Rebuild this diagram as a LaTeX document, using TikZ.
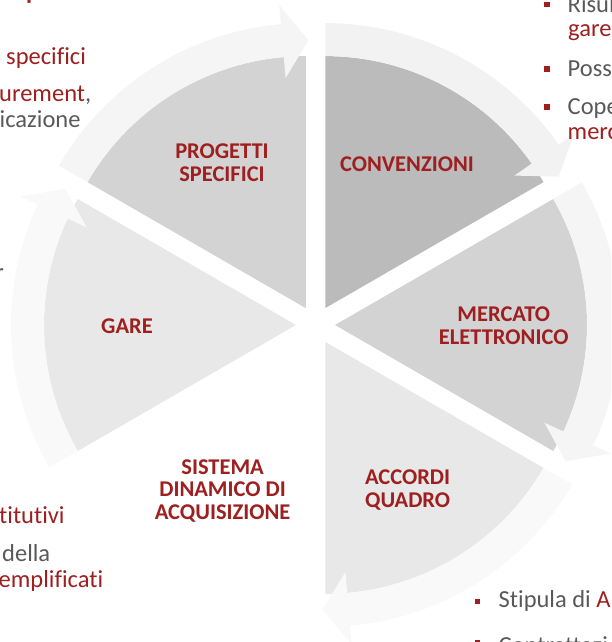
\documentclass[tikz,border=0pt]{standalone}
\usepackage{fontspec}
\setmainfont{Carlito}[Ligatures=NoCommon]
\definecolor{lblred}{RGB}{158,31,31}
\definecolor{txtgrey}{RGB}{89,89,89}
\definecolor{wedgeA}{RGB}{211,211,211}
\definecolor{wedgeB}{RGB}{187,187,187}
\definecolor{wedgeC}{RGB}{232,232,232}
\definecolor{ringA}{RGB}{245,245,245}
\definecolor{ringB}{RGB}{242,242,242}
\definecolor{ringC}{RGB}{249,249,249}
\newcommand\wedgeseg[2]{%
  \pgfmathsetmacro\aA{#1-30}\pgfmathsetmacro\aB{#1+30}%
  \begin{scope}[shift={(C)},shift={(#1:19.5pt)}]
    \fill[#2] (0,0) -- (\aA:252pt) arc[start angle=\aA, end angle=\aB, radius=252pt] -- cycle;
  \end{scope}}
\newcommand\arrowseg[2]{%
  \pgfmathsetmacro\aB{#1+30}\pgfmathsetmacro\aH{#1-25}\pgfmathsetmacro\aT{#1-30.6}%
  \begin{scope}[shift={(C)},shift={(#1:19.5pt)}]
    \fill[#2] (\aB:252pt) arc[start angle=\aB, end angle=\aH, radius=252pt]
      -- (\aH:231pt) -- (\aT:268pt) -- (\aH:304pt) -- (\aH:285pt)
      arc[start angle=\aH, end angle=\aB, radius=285pt] -- cycle;
  \end{scope}}
\begin{document}
\begin{tikzpicture}[x=1pt,y=1pt,
  lbl/.style={text=lblred, font=\fontsize{22.5}{22.7}\selectfont\bfseries, align=center, inner sep=0pt},
  body/.style={font=\fontsize{24.5}{26}\selectfont, inner sep=0pt, anchor=base west},
  bul/.style={fill=lblred, minimum width=5.5pt, minimum height=5.5pt, inner sep=0pt}]
\useasboundingbox (0,0) rectangle (611,642);
\clip (0,0) rectangle (611,642);
\coordinate (C) at (315.5,317);
% wedges
\wedgeseg{120}{wedgeA}
\wedgeseg{60}{wedgeB}
\wedgeseg{0}{wedgeA}
\wedgeseg{-60}{wedgeC}
\wedgeseg{180}{wedgeC}
% ring arrows
\arrowseg{120}{ringA}
\arrowseg{60}{ringB}
\arrowseg{0}{ringA}
\arrowseg{-60}{ringC}
\arrowseg{180}{ringC}
% labels
\node[lbl] (prog) at (222,479.5) {PROGETTI\\SPECIFICI};
\node[lbl] (conv) at (407,478) {CONVENZIONI};
\node[lbl] (merc) at (503.7,316.5) {MERCATO\\ELETTRONICO};
\node[lbl] (gare) at (127,316) {GARE};
\node[lbl] (acc) at (407.6,152) {ACCORDI\\QUADRO};
\node[lbl] (sda) at (222.6,151) {SISTEMA\\DINAMICO DI\\ACQUISIZIONE};
% left cut-off text
\node[body, anchor=south west, text=lblred, font=\fontsize{24.5}{26}\selectfont\bfseries] (hp) at (26,638) {p};
\node[body, text=lblred] (t1) at (6,577) {specifici};
\node[body] (t2) at (-1,540.3) {\textcolor{lblred}{urement}\textcolor{txtgrey}{,}};
\node[body, text=txtgrey] (t3) at (-0.5,514) {icazione};
\node[body, anchor=base east, text=txtgrey] (t4) at (4,361) {r};
\node[body, text=lblred] (t5) at (-1,118.7) {titutivi};
\node[body, text=txtgrey] (t6) at (2,80.3) {della};
\node[body, text=lblred] (t7) at (-1.5,54.7) {emplificati};
% right cut-off text
\node[bul] (b1) at (547,637.5) {};
\node[body, text=txtgrey] (r1) at (567.5,629.3) {Risul};
\node[body, text=lblred] (r2) at (568,605.3) {gare};
\node[bul] (b2) at (547,573) {};
\node[body, text=txtgrey] (r3) at (567.5,565.3) {Poss};
\node[bul] (b3) at (547,535) {};
\node[body, text=txtgrey] (r4) at (567.5,527) {Cope};
\node[body, text=lblred] (r5) at (567.5,502) {merc};
% bottom cut-off text
\node[bul] (b4) at (477.5,40.3) {};
\node[body] (s1) at (498.5,34) {\textcolor{txtgrey}{Stipula di }\textcolor{lblred}{A}};
\node[bul] (b5) at (477.5,-0.3) {};
\node[body, text=txtgrey] (s2) at (498.5,-11) {Contrattazi};
\end{tikzpicture}
\end{document}
